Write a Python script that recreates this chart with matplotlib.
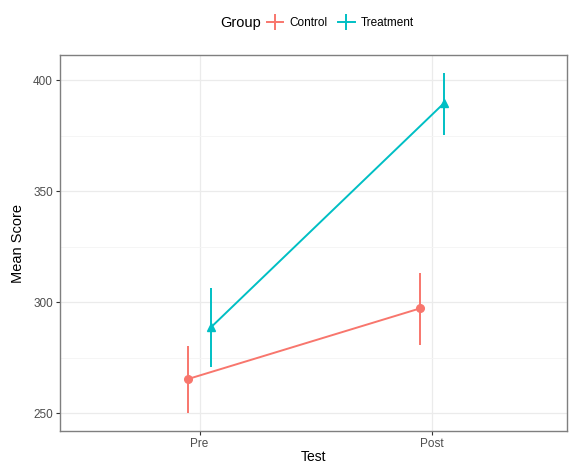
import matplotlib.pyplot as plt
from matplotlib.lines import Line2D

plt.rcParams['font.family'] = ['Liberation Sans', 'DejaVu Sans']

# data
tests = ["Pre", "Post"]
groups = ["Control", "Treatment"]
control_mean = [265.3, 297.2]
control_lo = [249.9, 280.6]
control_hi = [280.3, 313.2]
treat_mean = [288.7, 389.5]
treat_lo = [270.7, 375.2]
treat_hi = [306.3, 403.3]

colors = {"Control": "#F8766D", "Treatment": "#00BFC4"}
markers = {"Control": "o", "Treatment": "^"}
dodge = {"Control": -0.05, "Treatment": 0.05}

fig = plt.figure(figsize=(5.69, 4.63), dpi=100)
ax = fig.add_axes([0.1054, 0.0691, 0.8911, 0.8121])

series = {
    "Control": (control_mean, control_lo, control_hi),
    "Treatment": (treat_mean, treat_lo, treat_hi),
}
for g in groups:
    mean, lo, hi = series[g]
    xs = [i + 1 + dodge[g] for i in range(len(tests))]
    ax.plot(xs, mean, color=colors[g], lw=1.4, zorder=3)
    ax.vlines(xs, lo, hi, color=colors[g], lw=1.4, zorder=3)
    ax.plot(xs, mean, linestyle="none", marker=markers[g], ms=5.5,
            color=colors[g], zorder=4)

ax.set_xlim(0.4, 2.58)
ax.set_ylim(241.9, 411.3)
ax.set_xticks([1, 2])
ax.set_xticklabels(tests)
ax.set_yticks([250, 300, 350, 400])
ax.set_yticks([275, 325, 375], minor=True)

ax.grid(True, which="major", color="#EBEBEB", lw=0.9)
ax.grid(True, which="minor", axis="y", color="#F4F4F4", lw=0.6)
ax.set_axisbelow(True)
ax.tick_params(which="minor", length=0)
ax.tick_params(which="major", length=3, color="#333333", labelcolor="#4D4D4D",
               labelsize=8.5, pad=2)
for s in ax.spines.values():
    s.set_color("#7F7F7F")
    s.set_linewidth(1.0)

ax.set_ylabel("Mean Score", fontsize=10.5, labelpad=6)
ax.set_xlabel("Test", fontsize=10, va="top")
ax.xaxis.set_label_coords(0.5, -0.05)

handles = [Line2D([], [], color=colors[g], lw=1.4, marker="|", ms=12, mew=1.4)
           for g in groups]
fig.text(0.387, 0.951, "Group", fontsize=10.5, ha="left", va="center")
fig.legend(handles, groups, ncol=2, loc="center left",
           bbox_to_anchor=(0.469, 0.951), frameon=False, fontsize=8.5,
           handlelength=1.4, handletextpad=0.5, columnspacing=0.9,
           borderaxespad=0, borderpad=0)

fig.savefig("out.png", dpi=100)
